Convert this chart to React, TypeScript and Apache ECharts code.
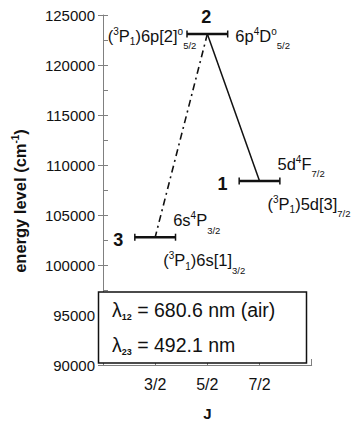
import React, { useEffect, useRef } from "react";
import * as echarts from "echarts";

// ---- data ----
const LEVEL_J = [3.5, 2.5, 1.5]; // J of levels 1, 2, 3
const LEVEL_E = [108410, 123100, 102780]; // energy (cm^-1)
const LEVEL_NUM = ["1", "2", "3"];
const LEVEL_LABEL_A = [
  "5d{sup|4}F{subd|7/2}",
  "({sup|3}P{sub|1})6p[2]{sup|o}{subd|5/2}",
  "6s{sup|4}P{subd|3/2}",
];
const LEVEL_LABEL_B = [
  "({sup|3}P{sub|1})5d[3]{subd|7/2}",
  "6p{sup|4}D{sup|o}{subd|5/2}",
  "({sup|3}P{sub|1})6s[1]{subd|3/2}",
];
const SOLID_TRANSITION = [1, 0]; // level 2 -> level 1
const DASHDOT_TRANSITION = [1, 2]; // level 2 -> level 3
const X_TICKS = [1.5, 2.5, 3.5];
const BOX_LINES = ["{l|λ}{s|12}{t| = 680.6 nm (air)}", "{l|λ}{s|23}{t| = 492.1 nm}"];

const FONT = "'Liberation Sans', Arial, sans-serif";
const INK = "#111";
const AXIS = "#808080";
const HALF_W = 0.39;

const LAYOUT: any[] = [
  { num: [-37, 3], a: [18, -17, "left"], b: [8, 23, "left"] },
  { num: [-1, -17], a: [-11, 1.5, "right"], b: [28, 1.5, "left"] },
  { num: [-37, 3], a: [18, -17, "left"], b: [8, 23, "left"] },
];

const levelRich = {
  sup: { fontSize: 10, fontFamily: FONT, height: 19, verticalAlign: "top", fill: INK },
  sub: { fontSize: 10, fontFamily: FONT, height: 16, verticalAlign: "bottom", fill: INK },
  subd: { fontSize: 9.5, fontFamily: FONT, height: 8, verticalAlign: "bottom", fill: INK },
};

export default function App() {
  const ref = useRef<HTMLDivElement>(null);
  useEffect(() => {
    const chart = echarts.init(ref.current!, null, { renderer: "svg" });
    const levelData = LEVEL_J.map((j, i) => [j, LEVEL_E[i], i]);
    const seg = (t: number[]) => t.map((i) => [LEVEL_J[i], LEVEL_E[i]]);
    chart.setOption({
      animation: false,
      grid: { left: 90, top: 15, width: 221.7, height: 365 },
      xAxis: {
        type: "value",
        min: 0.5,
        max: 4.5,
        interval: 1,
        name: "J",
        nameLocation: "middle",
        nameGap: 41,
        nameTextStyle: { fontFamily: FONT, fontWeight: "bold", fontSize: 15, color: INK },
        axisLine: { lineStyle: { color: AXIS, width: 1 } },
        axisTick: { inside: true, length: 6, lineStyle: { color: AXIS } },
        splitLine: { show: false },
        axisLabel: {
          fontFamily: FONT,
          fontSize: 16,
          color: INK,
          margin: 11,
          formatter: (v: number) =>
            X_TICKS.some((t) => Math.abs(t - v) < 1e-6) ? `${Math.round(v * 2)}/2` : "",
        },
      },
      yAxis: [
        {
          type: "value",
          position: "left",
          min: 90000,
          max: 125000,
          interval: 5000,
          name: "energy level (cm{sup|-1})",
          nameLocation: "middle",
          nameGap: 71,
          nameRotate: 90,
          nameTextStyle: {
            fontFamily: FONT,
            fontWeight: "bold",
            fontSize: 16.5,
            color: INK,
            lineHeight: 24,
            padding: [0, 22, 0, 0],
            rich: {
              sup: { fontFamily: FONT, fontWeight: "bold", fontSize: 10, color: INK, verticalAlign: "top", height: 14 },
            },
          },
          axisLine: { show: true, lineStyle: { color: AXIS, width: 1 } },
          axisTick: { show: true, inside: false, length: 5, lineStyle: { color: AXIS } },
          splitLine: { show: false },
          axisLabel: {
            fontFamily: FONT,
            fontSize: 15,
            color: INK,
            margin: 8,
            formatter: (v: number) => String(Math.round(v)),
          },
        },
        {
          type: "value",
          position: "left",
          min: 90000,
          max: 125000,
          interval: 2500,
          axisLine: { show: false },
          axisTick: { show: true, inside: true, length: 5, lineStyle: { color: AXIS } },
          splitLine: { show: false },
          axisLabel: { show: false },
        },
      ],
      series: [
        {
          type: "line",
          data: seg(SOLID_TRANSITION),
          symbol: "none",
          lineStyle: { color: INK, width: 1.5, type: "solid" },
          z: 2,
        },
        {
          type: "line",
          data: seg(DASHDOT_TRANSITION),
          symbol: "none",
          lineStyle: { color: INK, width: 1.6, type: [7, 4, 2, 4] },
          z: 2,
        },
        {
          type: "custom",
          data: levelData,
          z: 3,
          renderItem: (params: any, api: any) => {
            const j = api.value(0);
            const e = api.value(1);
            const idx = api.value(2);
            const p1 = api.coord([j - HALF_W, e]);
            const p2 = api.coord([j + HALF_W, e]);
            const c = api.coord([j, e]);
            const L = LAYOUT[idx];
            const txt = (dx: number, dy: number, align: string, text: string) => ({
              type: "text",
              x: c[0] + dx,
              y: c[1] + dy,
              style: {
                text,
                align,
                verticalAlign: "middle",
                fontFamily: FONT,
                fontSize: 16.5,
                lineHeight: 28,
                fill: INK,
                rich: levelRich,
              },
            });
            return {
              type: "group",
              children: [
                { type: "line", shape: { x1: p1[0], y1: p1[1], x2: p2[0], y2: p2[1] }, style: { stroke: INK, lineWidth: 2.5 } },
                { type: "line", shape: { x1: p1[0], y1: p1[1] - 3.5, x2: p1[0], y2: p1[1] + 3.5 }, style: { stroke: INK, lineWidth: 1.5 } },
                { type: "line", shape: { x1: p2[0], y1: p2[1] - 3.5, x2: p2[0], y2: p2[1] + 3.5 }, style: { stroke: INK, lineWidth: 1.5 } },
                {
                  type: "text",
                  x: c[0] + L.num[0],
                  y: c[1] + L.num[1],
                  style: {
                    text: LEVEL_NUM[idx],
                    align: "center",
                    verticalAlign: "middle",
                    fontFamily: FONT,
                    fontWeight: "bold",
                    fontSize: 18,
                    fill: INK,
                  },
                },
                txt(L.a[0], L.a[1], L.a[2], LEVEL_LABEL_A[idx]),
                txt(L.b[0], L.b[1], L.b[2], LEVEL_LABEL_B[idx]),
              ],
            };
          },
        },
      ],
      graphic: [
        {
          type: "rect",
          shape: { x: 98.5, y: 292, width: 208, height: 71 },
          style: { fill: "#fff", stroke: INK, lineWidth: 1.5 },
          z: 10,
        },
        ...BOX_LINES.map((t, i) => ({
          type: "text",
          x: 112,
          y: 310 + i * 35,
          z: 11,
          style: {
            text: t,
            align: "left",
            verticalAlign: "middle",
            fontFamily: FONT,
            fontSize: 19.5,
            lineHeight: 30,
            fill: INK,
            rich: {
              l: { fontFamily: FONT, fontSize: 19.5, fill: INK },
              t: { fontFamily: FONT, fontSize: 19.5, fill: INK },
              s: { fontFamily: FONT, fontSize: 9, fontWeight: "bold", fill: INK, height: 16, verticalAlign: "bottom" },
            },
          },
        })),
      ],
    });
    return () => chart.dispose();
  }, []);
  return (
    <div
      ref={ref}
      style={{ position: "fixed", left: 0, top: 0, width: 356, height: 426, background: "#fff" }}
    />
  );
}
